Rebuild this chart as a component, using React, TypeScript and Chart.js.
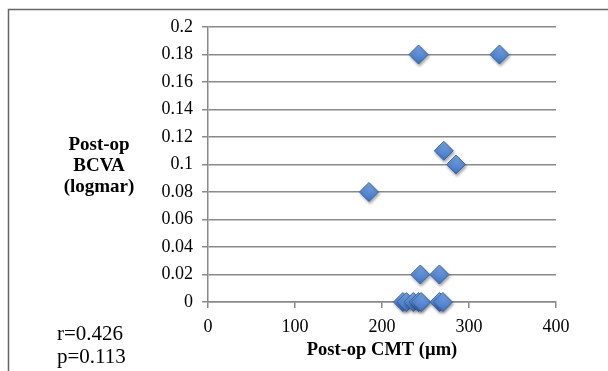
import React, { useEffect, useRef } from "react";
import { Chart, registerables } from "chart.js";

Chart.register(...registerables);

const cmtValues = [242, 335, 271, 285, 185, 244, 266, 224, 228, 236, 242, 245, 266, 270];
const bcvaValues = [0.18, 0.18, 0.11, 0.1, 0.08, 0.02, 0.02, 0, 0, 0, 0, 0, 0, 0];
const xTicks = [0, 100, 200, 300, 400];
const yTitleLines = ["Post-op", "BCVA", "(logmar)"];
const xTitle = "Post-op CMT (µm)";
const statsLines = ["r=0.426", "p=0.113"];

const FONT = "'Liberation Serif', 'Times New Roman', serif";
const RADIUS = 9.5;

const decorPlugin = {
  id: "decor",
  beforeDatasetsDraw(chart: any) {
    const ctx = chart.ctx;
    ctx.save();
    ctx.shadowColor = "rgba(0,0,0,0.35)";
    ctx.shadowBlur = 3;
    ctx.shadowOffsetX = 1;
    ctx.shadowOffsetY = 2;
  },
  afterDatasetsDraw(chart: any) {
    chart.ctx.restore();
  },
  afterDraw(chart: any) {
    const ctx = chart.ctx;
    ctx.save();
    ctx.strokeStyle = "#666";
    ctx.lineWidth = 1.5;
    ctx.beginPath();
    ctx.moveTo(8.5, 371);
    ctx.lineTo(8.5, 9.5);
    ctx.lineTo(608, 9.5);
    ctx.stroke();
    ctx.fillStyle = "#000";
    ctx.textBaseline = "middle";
    ctx.textAlign = "center";
    ctx.font = `bold 19px ${FONT}`;
    yTitleLines.forEach((t, i) => ctx.fillText(t, 99, 145 + i * 21));
    ctx.font = `bold 18.5px ${FONT}`;
    ctx.fillText(xTitle, 382, 350);
    ctx.textAlign = "left";
    ctx.font = `21px ${FONT}`;
    statsLines.forEach((t, i) => ctx.fillText(t, 57, 334 + i * 23));
    ctx.restore();
  },
};

export default function App() {
  const ref = useRef<HTMLCanvasElement>(null);
  useEffect(() => {
    const data = cmtValues.map((x, i) => ({ x, y: bcvaValues[i] }));
    const chart = new Chart(ref.current!, {
      type: "scatter",
      data: {
        datasets: [
          {
            data,
            clip: false,
            pointStyle: "rectRot",
            pointRadius: RADIUS,
            backgroundColor: (c: any) => {
              const ch = c.chart;
              if (!ch.chartArea || !c.parsed) return "#5b8fd8";
              const py = ch.scales.y.getPixelForValue(c.parsed.y);
              const g = ch.ctx.createLinearGradient(0, py - RADIUS, 0, py + RADIUS);
              g.addColorStop(0, "#7aa8e8");
              g.addColorStop(1, "#3f72c2");
              return g;
            },
            borderColor: "#3a66a8",
            borderWidth: 1,
          },
        ],
      },
      options: {
        animation: false,
        responsive: false,
        events: [],
        layout: { padding: { left: 0, top: 27, right: 52, bottom: 0 } },
        plugins: { legend: { display: false }, tooltip: { enabled: false } },
        scales: {
          x: {
            type: "linear",
            min: 0,
            max: 400,
            afterBuildTicks: (s: any) => {
              s.ticks = xTicks.map((v) => ({ value: v }));
            },
            afterFit: (s: any) => {
              s.height = 69;
            },
            grid: {
              display: true,
              drawOnChartArea: false,
              drawTicks: true,
              tickLength: 6,
              color: "#8a8a8a",
              lineWidth: 1.5,
            },
            border: { display: true, color: "#8a8a8a", width: 1.5 },
            ticks: {
              padding: 8,
              color: "#000",
              font: { family: FONT, size: 18 },
            },
          },
          y: {
            type: "linear",
            min: 0,
            max: 0.2,
            ticks: {
              stepSize: 0.02,
              padding: 9,
              color: "#000",
              font: { family: FONT, size: 18 },
              callback: (v: any) => String(Math.round(Number(v) * 100) / 100),
            },
            afterFit: (s: any) => {
              s.width = 208;
            },
            grid: {
              color: "#8a8a8a",
              lineWidth: 1.5,
              tickLength: 6,
            },
            border: { display: true, color: "#8a8a8a", width: 1.5 },
          },
        },
      },
      plugins: [decorPlugin],
    });
    return () => chart.destroy();
  }, []);
  return (
    <div style={{ position: "absolute", left: 0, top: 0, width: 608, height: 371, background: "#fff" }}>
      <canvas ref={ref} width={608} height={371} style={{ display: "block" }} />
    </div>
  );
}
